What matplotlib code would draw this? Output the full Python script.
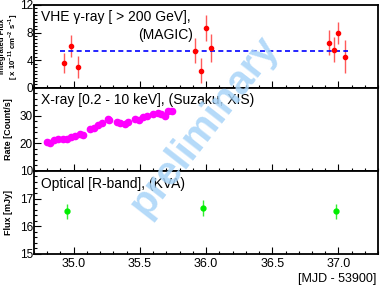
import matplotlib
matplotlib.use("Agg")
import matplotlib.pyplot as plt
from matplotlib.ticker import MultipleLocator, FixedLocator
import numpy as np

plt.rcParams['font.family'] = ['Liberation Sans', 'DejaVu Sans']
plt.rcParams['mathtext.fontset'] = 'custom'
plt.rcParams['mathtext.rm'] = 'Liberation Sans:bold'
plt.rcParams['mathtext.bf'] = 'Liberation Sans:bold'

# --- MAGIC (VHE gamma-ray) ---
magic_t = [34.925, 34.98, 35.03, 35.92, 35.96, 36.00, 36.04, 36.93, 36.97, 37.00, 37.05]
magic_f = [3.6, 6.1, 3.0, 5.35, 2.45, 8.65, 5.8, 6.5, 5.5, 7.9, 4.5]
magic_err = [1.5, 1.6, 1.6, 1.8, 1.8, 1.9, 2.0, 1.8, 1.8, 1.6, 2.4]
magic_terr = 0.015
magic_mean = 5.35

# --- Suzaku XIS (X-ray) ---
xray_t = [34.80, 34.82, 34.85, 34.88, 34.92, 34.95, 34.98, 35.01, 35.05, 35.07,
          35.12, 35.15, 35.18, 35.21, 35.26, 35.27, 35.33, 35.35, 35.39, 35.41,
          35.46, 35.49, 35.52, 35.55, 35.60, 35.64, 35.66, 35.69, 35.71, 35.74]
xray_r = [20.6, 20.1, 21.3, 21.5, 21.7, 21.7, 22.4, 22.6, 23.2, 23.0,
          25.2, 25.5, 26.7, 27.3, 28.8, 28.3, 27.6, 27.3, 27.0, 27.6,
          28.9, 28.3, 29.4, 29.7, 30.6, 31.0, 30.4, 29.7, 31.5, 31.5]

# --- KVA (optical R-band) ---
opt_t = [34.95, 35.98, 36.98]
opt_f = [16.54, 16.67, 16.55]
opt_err = [0.28, 0.29, 0.27]

# tick values per panel
ticks_top = [0, 4, 8, 12]
ticks_mid = [10, 20, 30]
ticks_bot = [15, 16, 17]

fig = plt.figure(figsize=(3.82, 2.86), dpi=100)
left, width = 0.089, 0.901
bottom, top = 0.112, 0.983
h = (top - bottom) / 3
ax1 = fig.add_axes([left, bottom + 2 * h, width, h])
ax2 = fig.add_axes([left, bottom + h, width, h], sharex=ax1)
ax3 = fig.add_axes([left, bottom, width, h], sharex=ax1)

for ax in (ax1, ax2, ax3):
    for s in ax.spines.values():
        s.set_linewidth(1.3)
    ax.tick_params(which='both', direction='in', top=False, right=False,
                   labelsize=8.5, width=0.8, pad=0.8)
    ax.tick_params(which='major', length=5)
    ax.tick_params(which='minor', length=2.5)
    ax.xaxis.set_major_locator(MultipleLocator(0.5))
    ax.xaxis.set_minor_locator(MultipleLocator(0.1))

ax1.set_xlim(34.7, 37.3)

# top panel
ax1.errorbar(magic_t, magic_f, yerr=magic_err, xerr=magic_terr, fmt='o',
             color='red', ecolor='#ff5a5a', ms=3, elinewidth=1, capsize=0)
ax1.plot([34.9, 37.07], [magic_mean, magic_mean], color='blue', ls=(0, (3, 2)), lw=1.2)
ax1.set_ylim(0, 12)
ax1.yaxis.set_major_locator(FixedLocator(ticks_top))
ax1.yaxis.set_minor_locator(MultipleLocator(0.5))
ax1.set_ylabel('Integrated Flux\n[ x 10$^{-11}$ cm$^{-2}$ s$^{-1}$]', fontsize=5.6,
               fontweight='bold', linespacing=1.0)
ax1.yaxis.set_label_coords(-0.04, 0.5)
ax1.text(0.02, 0.85, u'VHE \u03b3-ray [ > 200 GeV],', transform=ax1.transAxes,
         fontsize=10, va='center', ha='left')
ax1.text(0.462, 0.64, '(MAGIC)', transform=ax1.transAxes,
         fontsize=10, va='center', ha='right')
plt.setp(ax1.get_xticklabels(), visible=False)

# middle panel
ax2.plot(xray_t, xray_r, 'o', color='#ff00ff', ms=4.5)
ax2.set_ylim(10, 40)
ax2.yaxis.set_major_locator(FixedLocator(ticks_mid))
ax2.yaxis.set_minor_locator(MultipleLocator(2))
ax2.set_ylabel('Rate [Count/s]', fontsize=6.5, fontweight='bold')
ax2.yaxis.set_label_coords(-0.062, 0.5)
ax2.text(0.02, 0.86, 'X-ray [0.2 - 10 keV], (Suzaku, XIS)', transform=ax2.transAxes,
         fontsize=10, va='center', ha='left')
plt.setp(ax2.get_xticklabels(), visible=False)

# bottom panel
ax3.errorbar(opt_t, opt_f, yerr=opt_err, fmt='o', color='#00ee00', ecolor='#33ee33',
             ms=3.5, elinewidth=1, capsize=0)
ax3.set_ylim(15, 18)
ax3.yaxis.set_major_locator(FixedLocator(ticks_bot))
ax3.yaxis.set_minor_locator(MultipleLocator(0.2))
ax3.set_ylabel('Flux [mJy]', fontsize=6.5, fontweight='bold')
ax3.yaxis.set_label_coords(-0.062, 0.5)
ax3.text(0.02, 0.84, 'Optical [R-band], (KVA)', transform=ax3.transAxes,
         fontsize=10, va='center', ha='left')
ax3.tick_params(axis='x', labelsize=9, pad=3)

fig.text(0.985, 0.004, '[MJD - 53900]', fontsize=9, ha='right', va='bottom')

# watermark
fig.text(0.535, 0.56, 'preliminary', fontsize=29, fontweight='bold', color='#a8d4f8',
         alpha=0.85, rotation=52, ha='center', va='center')

fig.savefig('out.png', dpi=100)
